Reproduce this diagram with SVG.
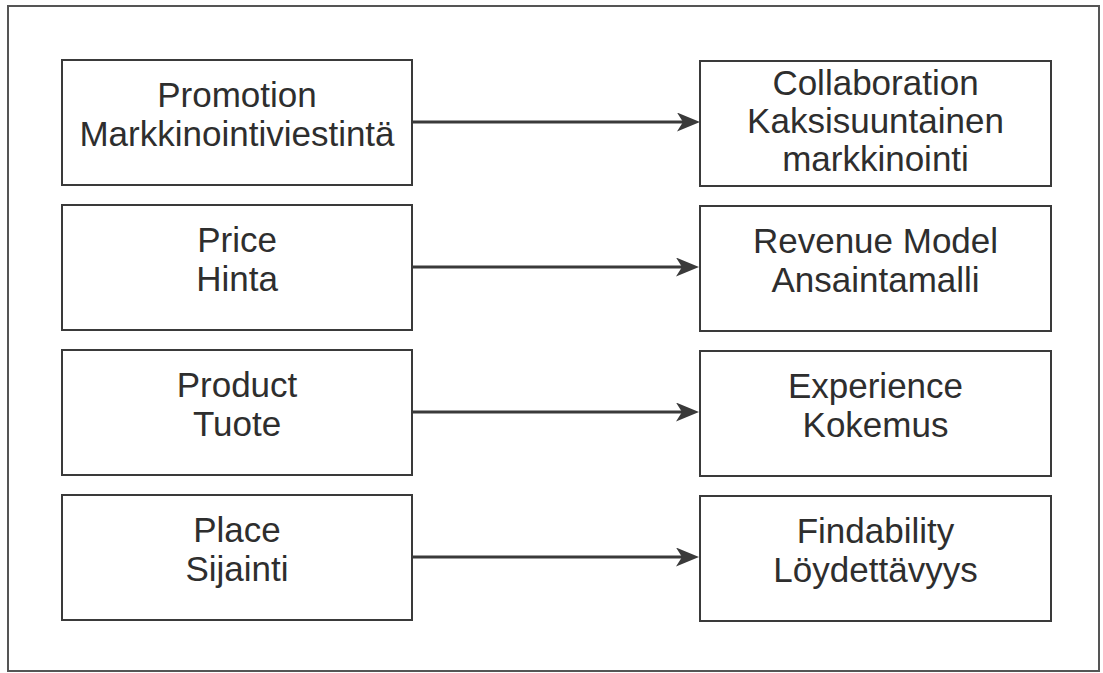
<svg xmlns="http://www.w3.org/2000/svg" width="1103" height="673" viewBox="0 0 1103 673">
<defs>
<style>
.frame{fill:none;stroke:#555;stroke-width:2}
.box{fill:#fff;stroke:#3a3a3a;stroke-width:2}
.lbl{font-family:"Liberation Sans",Arial,sans-serif;font-size:35px;fill:#2e2e2e;text-anchor:middle}
.conn{stroke:#3a3a3a;stroke-width:3;fill:none}
</style>
<marker id="ah" viewBox="0 0 23 19" refX="13" refY="9.5" markerWidth="23" markerHeight="19" markerUnits="userSpaceOnUse" orient="auto">
<path d="M0,0 L23,9.5 L0,19 L6,9.5 Z" fill="#3a3a3a"/>
</marker>
</defs>
<rect width="1103" height="673" fill="#fff"/>
<rect class="frame" x="8" y="6" width="1091" height="665"/>

<g id="promotion">
<rect class="box" x="62" y="60" width="350" height="125"/>
<text class="lbl" x="237" y="107">Promotion</text>
<text class="lbl" x="237" y="146">Markkinointiviestintä</text>
</g>
<g id="price">
<rect class="box" x="62" y="205" width="350" height="125"/>
<text class="lbl" x="237" y="252">Price</text>
<text class="lbl" x="237" y="291">Hinta</text>
</g>
<g id="product">
<rect class="box" x="62" y="350" width="350" height="125"/>
<text class="lbl" x="237" y="397">Product</text>
<text class="lbl" x="237" y="436">Tuote</text>
</g>
<g id="place">
<rect class="box" x="62" y="495" width="350" height="125"/>
<text class="lbl" x="237" y="542">Place</text>
<text class="lbl" x="237" y="581">Sijainti</text>
</g>

<g id="collaboration">
<rect class="box" x="700" y="61" width="351" height="125"/>
<text class="lbl" x="875.5" y="95">Collaboration</text>
<text class="lbl" x="875.5" y="133">Kaksisuuntainen</text>
<text class="lbl" x="875.5" y="171">markkinointi</text>
</g>
<g id="revenue">
<rect class="box" x="700" y="206" width="351" height="125"/>
<text class="lbl" x="875.5" y="253">Revenue Model</text>
<text class="lbl" x="875.5" y="292">Ansaintamalli</text>
</g>
<g id="experience">
<rect class="box" x="700" y="351" width="351" height="125"/>
<text class="lbl" x="875.5" y="398">Experience</text>
<text class="lbl" x="875.5" y="437">Kokemus</text>
</g>
<g id="findability">
<rect class="box" x="700" y="496" width="351" height="125"/>
<text class="lbl" x="875.5" y="543">Findability</text>
<text class="lbl" x="875.5" y="582">Löydettävyys</text>
</g>

<g id="connectors">
<line class="conn" x1="412" y1="122" x2="690" y2="122" marker-end="url(#ah)"/>
<line class="conn" x1="412" y1="267" x2="689" y2="267" marker-end="url(#ah)"/>
<line class="conn" x1="412" y1="412" x2="689" y2="412" marker-end="url(#ah)"/>
<line class="conn" x1="412" y1="557" x2="689" y2="557" marker-end="url(#ah)"/>
</g>
</svg>
